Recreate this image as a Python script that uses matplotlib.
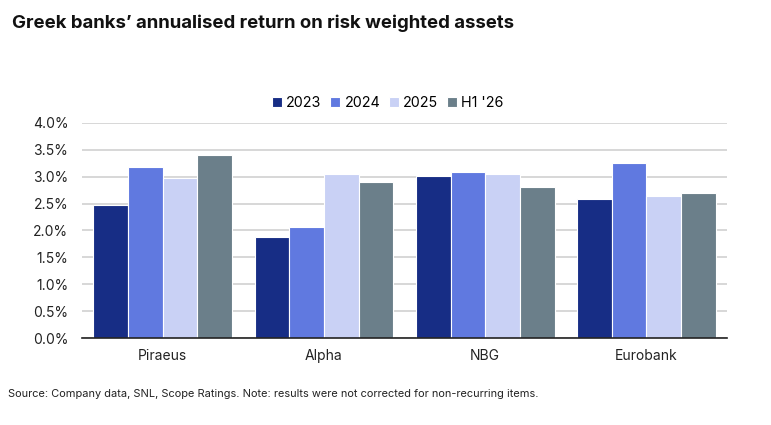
import numpy as np
import matplotlib
matplotlib.use('Agg')
import matplotlib.pyplot as plt
from matplotlib.ticker import FuncFormatter

banks = ['Piraeus', 'Alpha', 'NBG', 'Eurobank']
series = ['2023', '2024', '2025', "H1 '26"]
r2023 = [2.48, 1.87, 3.02, 2.59]
r2024 = [3.18, 2.07, 3.08, 3.25]
r2025 = [2.97, 3.05, 3.05, 2.64]
rh126 = [3.40, 2.90, 2.80, 2.70]
colors = ['#172d85', '#6079e0', '#c9d1f5', '#6b7f8a']

plt.rcParams['font.family'] = ['Inter', 'DejaVu Sans']

fig = plt.figure(figsize=(7.71, 4.25), dpi=100)
ax = fig.add_axes([0.1064, 0.2047, 0.8366, 0.5059])

x = np.arange(len(banks))
w = 0.215
for i, (vals, lab) in enumerate(zip([r2023, r2024, r2025, rh126], series)):
    ax.bar(x + (i - 1.5) * w, vals, w, color=colors[i], label=lab,
           edgecolor='white', linewidth=0.8, zorder=3)

ax.set_xlim(-0.5, len(banks) - 0.5)
ax.set_ylim(0, 4.0)
ax.set_yticks(np.arange(0, 4.01, 0.5))
ax.yaxis.set_major_formatter(FuncFormatter(lambda v, p: f'{v:.1f}%'))
ax.set_xticks(x)
ax.set_xticklabels(banks)
ax.tick_params(axis='both', length=0, labelsize=10, colors='#222222', pad=8)
ax.tick_params(axis='y', pad=10)
ax.grid(axis='y', color='#d4d4d4', linewidth=1.3, zorder=0)
for s in ['top', 'right', 'left']:
    ax.spines[s].set_visible(False)
ax.spines['bottom'].set_color('#222222')
ax.spines['bottom'].set_linewidth(1.2)
ax.spines['bottom'].set_zorder(4)

ax.legend(loc='lower center', bbox_to_anchor=(0.474, 1.035), ncol=4, frameon=False,
          fontsize=10.3, handlelength=0.7, handleheight=0.7, handletextpad=0.3,
          columnspacing=0.6, borderaxespad=0)

fig.text(0.016, 0.945, 'Greek banks\u2019 annualised return on risk weighted assets',
         fontsize=13.4, fontweight='bold', color='#111111', va='center')
fig.text(0.011, 0.073, 'Source: Company data, SNL, Scope Ratings. Note: results were not corrected for non-recurring items.',
         fontsize=7.9, color='#222222', va='center')

fig.savefig('out.png', dpi=100)
